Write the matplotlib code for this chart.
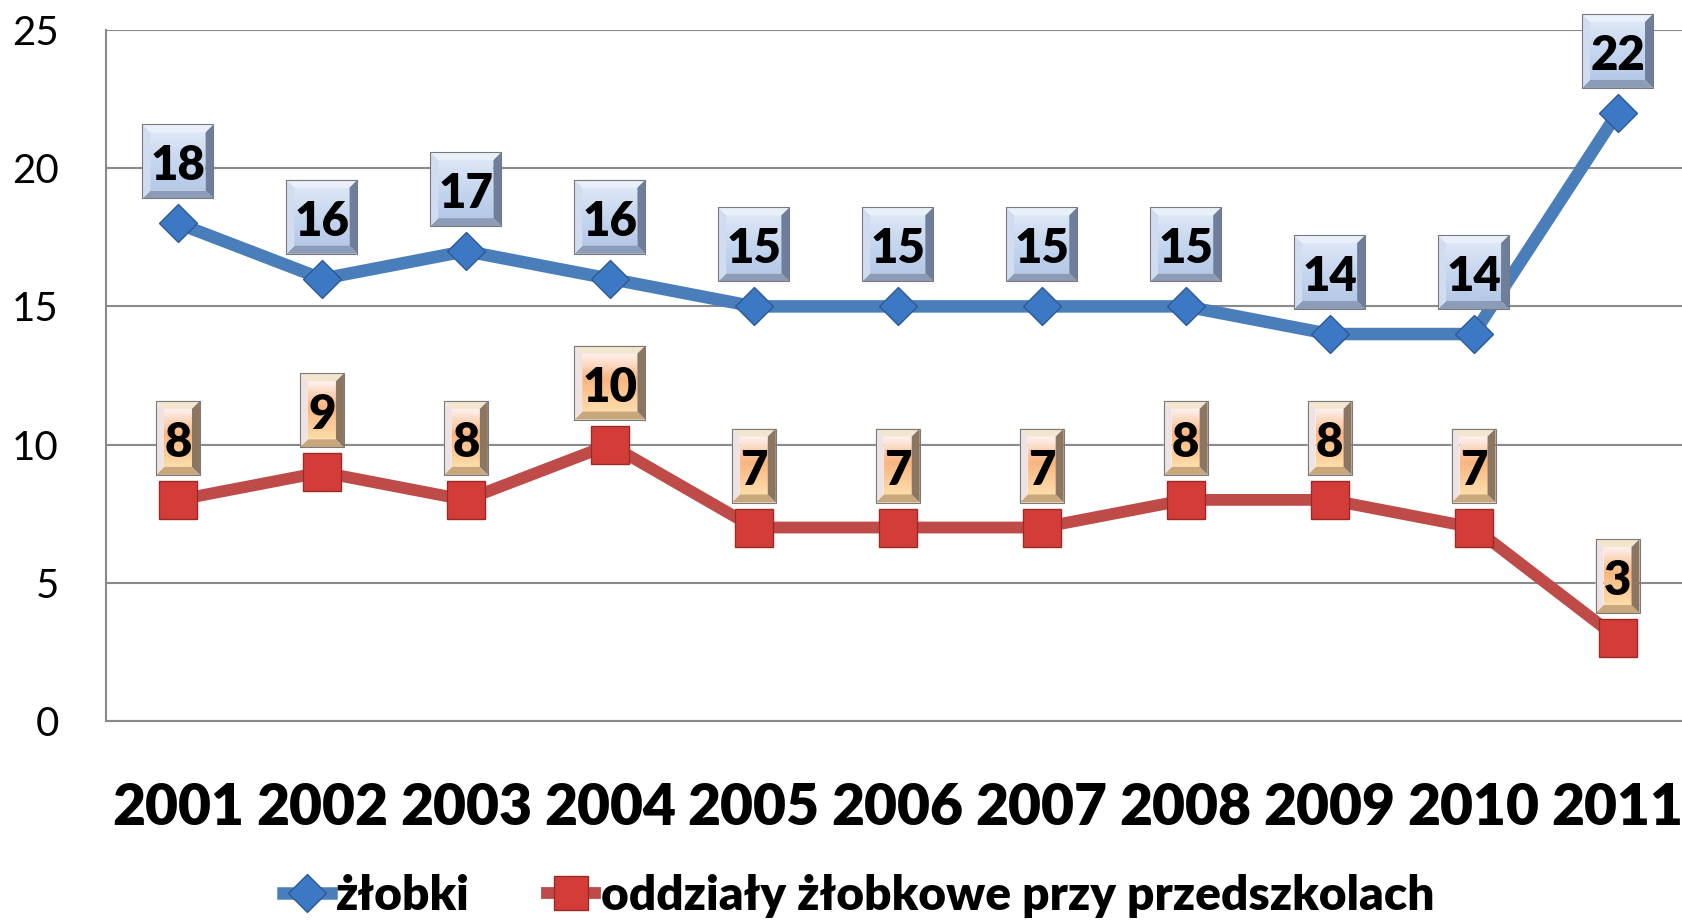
import matplotlib
matplotlib.use('Agg')
import matplotlib.pyplot as plt
from matplotlib.patches import Polygon, Rectangle
from matplotlib.lines import Line2D
from matplotlib.transforms import IdentityTransform
from matplotlib.colors import to_rgb
import numpy as np

# ---- data ----
years = ['2001', '2002', '2003', '2004', '2005', '2006', '2007', '2008', '2009', '2010', '2011']
zlobki = [18, 16, 17, 16, 15, 15, 15, 15, 14, 14, 22]
oddzialy = [8, 9, 8, 10, 7, 7, 7, 8, 8, 7, 3]
series_names = ['żłobki', 'oddziały żłobkowe przy przedszkolach']
y_ticks = [0, 5, 10, 15, 20, 25]

plt.rcParams['font.family'] = ['Lato', 'DejaVu Sans']

W, H, DPI = 1683, 923, 100
fig = plt.figure(figsize=(W / DPI, H / DPI), dpi=DPI)
ax = fig.add_axes([106 / W, 1 - 721 / H, (1689.5 - 106) / W, (721 - 30) / H])

x = np.arange(1, len(years) + 1)
BLUE_LINE = '#4a7ebb'
RED_LINE = '#be4b48'
ax.plot(x, zlobki, color=BLUE_LINE, lw=9, marker='D', ms=19.5,
        mfc='#3d78c4', mec='#2c5a94', mew=1, zorder=4)
ax.plot(x, oddzialy, color=RED_LINE, lw=8.5, marker='s', ms=27,
        mfc='#d43c38', mec='#9a2a27', mew=1, zorder=4)

ax.set_xlim(0.5, len(years) + 0.5)
ax.set_ylim(0, 25)
ax.set_yticks(y_ticks)
ax.set_yticklabels([str(t) for t in y_ticks], fontsize=29)
ax.set_xticks(x)
ax.set_xticklabels(years, fontsize=41, fontweight='heavy')
ax.tick_params(axis='y', length=0, pad=34)
ax.tick_params(axis='x', length=0, pad=44)
ax.grid(axis='y', color='#8a8a8a', lw=1.5, zorder=0)
ax.set_axisbelow(True)
for s in ['top', 'right']:
    ax.spines[s].set_visible(False)
for s in ['left', 'bottom']:
    ax.spines[s].set_color('#8a8a8a')
    ax.spines[s].set_linewidth(1.5)


def interp_color(stops, t):
    pos = [p for p, _ in stops]
    cols = np.array([to_rgb(c) for _, c in stops])
    return tuple(np.interp(t, pos, cols[:, k]) for k in range(3))


def draw_box(cx, cy, w, h, stops, bevel, b=8):
    L, R, B, T = cx - w / 2, cx + w / 2, cy - h / 2, cy + h / 2
    tr = IdentityTransform()
    n = 30
    ih = (T - b) - (B + b)
    for i in range(n):
        t = (i + 0.5) / n
        y0 = (T - b) - ih * (i + 1) / n
        fig.add_artist(Rectangle((L + b, y0), w - 2 * b, ih / n + 0.6,
                                 transform=tr, color=interp_color(stops, t),
                                 lw=0, zorder=5))
    top, left, right, bottom = bevel
    polys = [
        ([(L, T), (R, T), (R - b, T - b), (L + b, T - b)], top),
        ([(L, B), (R, B), (R - b, B + b), (L + b, B + b)], bottom),
        ([(L, B), (L, T), (L + b, T - b), (L + b, B + b)], left),
        ([(R, B), (R, T), (R - b, T - b), (R - b, B + b)], right),
    ]
    for pts, c in polys:
        fig.add_artist(Polygon(pts, closed=True, transform=tr, color=c, lw=0, zorder=5))
    fig.add_artist(Rectangle((L, B), w, h, transform=tr, fill=False,
                             ec='#7a7a7a', lw=0.8, zorder=6))


blue_stops = [(0, '#dde7f6'), (0.5, '#c6d6ef'), (1, '#b4c7e6')]
blue_bevel = ('#eaf0f9', '#d0dcf0', '#6e7f9b', '#8b9bb8')
orange_stops = [(0, '#fdf3f1'), (0.45, '#f8b57f'), (1, '#fcdcaa')]
orange_bevel = ('#f2e6cf', '#f1e2e2', '#8b7761', '#c8a77c')

fig.canvas.draw()
for vals, stops, bevel in [(zlobki, blue_stops, blue_bevel),
                           (oddzialy, orange_stops, orange_bevel)]:
    for xi, v in zip(x, vals):
        px, py = ax.transData.transform((xi, v))
        cy = py + 62
        s = str(v)
        w = 71 if len(s) > 1 else 44
        draw_box(px, cy, w, 74, stops, bevel)
        fig.text(px, cy - 19, s, transform=IdentityTransform(), ha='center',
                 va='baseline', fontsize=34, fontweight='heavy', color='black',
                 zorder=7)

handles = [
    Line2D([], [], color=BLUE_LINE, lw=9, marker='D', ms=19.5,
           mfc='#3d78c4', mec='#2c5a94', mew=1),
    Line2D([], [], color=RED_LINE, lw=8.5, marker='s', ms=24,
           mfc='#d43c38', mec='#9a2a27', mew=1),
]
fig.legend(handles, series_names, loc='center', bbox_to_anchor=(0.510, 1 - 896 / H),
           ncol=2, frameon=False, prop={'size': 34.5, 'weight': 'heavy'},
           handlelength=1.0, handletextpad=0.12, columnspacing=1.6)

fig.savefig('out.png', dpi=DPI)
